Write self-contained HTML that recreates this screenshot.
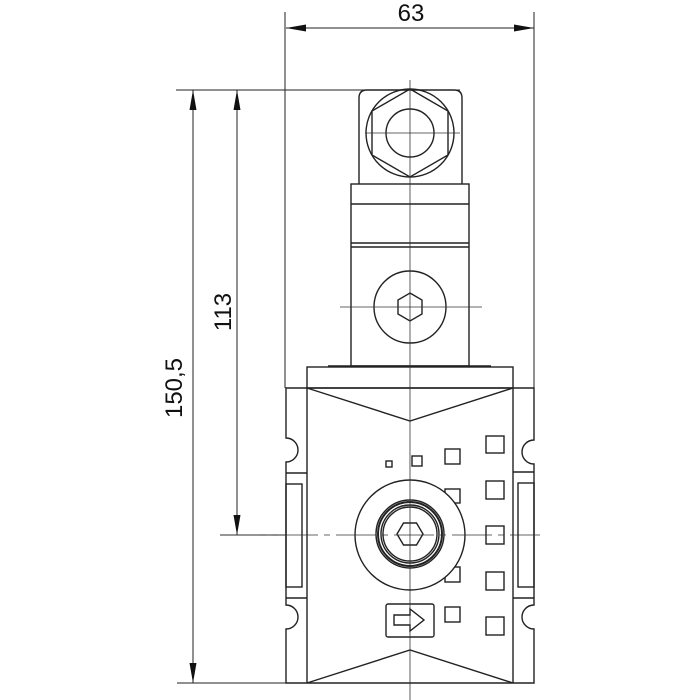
<!DOCTYPE html>
<html><head><meta charset="utf-8"><style>html,body{margin:0;padding:0;background:#fff}svg{display:block}</style></head>
<body>
<svg width="700" height="700" viewBox="0 0 700 700" xmlns="http://www.w3.org/2000/svg" font-family="'Liberation Sans', sans-serif">
<g stroke="#222" fill="none" stroke-width="1">
<!-- dimension extension lines -->
<line x1="285" y1="12" x2="285" y2="388"/>
<line x1="534" y1="12" x2="534" y2="388"/>
<line x1="176" y1="90" x2="460" y2="90"/>
<line x1="220" y1="535" x2="286" y2="535"/>
<line x1="177" y1="683" x2="286" y2="683"/>
<line x1="286" y1="28" x2="534" y2="28"/>
<line x1="193" y1="90" x2="193" y2="683"/>
<line x1="237" y1="90" x2="237" y2="535"/>
</g>
<g fill="#111">
<polygon points="286,28 306,24.5 306,31.5"/>
<polygon points="534,28 514,24.5 514,31.5"/>
<polygon points="193,90 189.5,110 196.5,110"/>
<polygon points="193,683 189.5,663 196.5,663"/>
<polygon points="237,90 233.5,110 240.5,110"/>
<polygon points="237,535 233.5,515 240.5,515"/>
</g>
<g font-size="24" fill="#111" text-anchor="middle">
<text x="411" y="21">63</text>
<text transform="translate(231,312) rotate(-90)">113</text>
<text transform="translate(182,388) rotate(-90)">150,5</text>
</g>
<g stroke="#222" fill="none" stroke-width="1.4">
<!-- connector head -->
<path d="M359,184 V98 Q359,90 367,90 H454 Q462,90 462,98 V184"/>
<circle cx="410" cy="133" r="44"/>
<circle cx="410" cy="133" r="24"/>
<polygon points="410,89 448,111 448,155 410,177 372,155 372,111"/>
<!-- stem -->
<rect x="351" y="184" width="118" height="182"/>
<line x1="351" y1="204" x2="469" y2="204"/>
<line x1="351" y1="243" x2="469" y2="243"/>
<line x1="351" y1="247" x2="469" y2="247"/>
<circle cx="410" cy="307" r="36"/>
<polygon points="410,293 422,300 422,314 410,321 398,314 398,300"/>
<line x1="328" y1="366" x2="491" y2="366"/>
<!-- cap -->
<rect x="307" y="367" width="206" height="21"/>
<!-- body -->
<path d="M286,388 H534 V440 A12,12 0 0 0 534,464 V472 V598 V605 A12,12 0 0 0 534,629 V683 H286 V629 A12,12 0 0 0 286,605 V598 V472 V462 A12,12 0 0 0 286,438 Z"/>
<line x1="307" y1="388" x2="307" y2="683"/>
<line x1="513" y1="388" x2="513" y2="683"/>
<line x1="286" y1="473" x2="307" y2="473"/>
<line x1="286" y1="598" x2="307" y2="598"/>
<line x1="513" y1="472" x2="534" y2="472"/>
<line x1="513" y1="598" x2="534" y2="598"/>
<rect x="286" y="484" width="16" height="103"/>
<rect x="518" y="483" width="16" height="104"/>
<polyline points="307,388 410,421 513,388"/>
<polyline points="307,683 410,650 513,683"/>
<!-- squares -->
<rect x="386" y="461" width="6" height="6"/>
<rect x="412" y="456" width="10" height="10"/>
<rect x="445" y="449" width="15" height="15"/>
<rect x="445" y="489" width="15" height="14"/>
<rect x="445" y="567" width="15" height="15"/>
<rect x="445" y="607" width="15" height="15"/>
<rect x="486" y="436" width="18" height="17"/>
<rect x="486" y="481" width="18" height="18"/>
<rect x="486" y="526" width="18" height="18"/>
<rect x="486" y="572" width="18" height="18"/>
<rect x="486" y="617" width="18" height="18"/>
<!-- port -->
<circle cx="410" cy="535" r="55" fill="#fff"/>
<circle cx="410" cy="534" r="34"/>
<circle cx="410" cy="534" r="32" stroke-width="2"/>
<circle cx="410" cy="534" r="29"/>
<circle cx="410" cy="534" r="27"/>
<polygon points="397,534 403.5,523 416.5,523 423,534 416.5,545 403.5,545"/>
<!-- arrow box -->
<rect x="386" y="604" width="48" height="33" rx="2"/>
<polygon points="394,615 410,615 410,609 424,620 410,631 410,625 394,625"/>
</g>
<!-- centerlines -->
<g stroke="#333" stroke-width="0.8" fill="none">
<line x1="410" y1="80" x2="410" y2="700"/>
<line x1="365" y1="133" x2="460" y2="133"/>
<line x1="340" y1="307" x2="482" y2="307"/>
<line x1="220" y1="535" x2="540" y2="535" stroke-dasharray="40,6,6,6"/>
</g>
</svg>
</body></html>
